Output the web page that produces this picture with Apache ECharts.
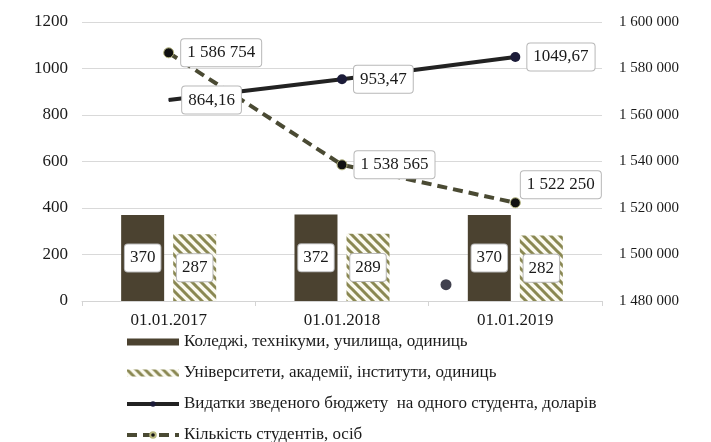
<!DOCTYPE html>
<html>
<head>
<meta charset="utf-8">
<script src="https://cdn.jsdelivr.net/npm/echarts@6/dist/echarts.min.js"></script>
<style>html,body{margin:0;padding:0;background:#fff;}#c{width:711px;height:442px;}</style>
</head>
<body>
<div id="c"></div>
<script>
var categories = ['01.01.2017', '01.01.2018', '01.01.2019'];
var colleges = [370, 372, 370];
var universities = [287, 289, 282];
var budgetPerStudent = [864.16, 953.47, 1049.67];
var students = [1586754, 1538565, 1522250];
var strayPoint = [[1.6, 70]];
var leftTicks = {min: 0, max: 1200, interval: 200};
var rightTicks = {min: 1480000, max: 1600000, interval: 20000};
var names = [
  'Коледжі, технікуми, училища, одиниць',
  'Університети, академії, інститути, одиниць',
  'Видатки зведеного бюджету  на одного студента, доларів',
  'Кількість студентів, осіб'
];

var FONT = '"Liberation Serif", "Times New Roman", serif';
function sp(v) { return String(v).replace(/\B(?=(\d{3})+(?!\d))/g, ' '); }
function dec(v) { return v.toFixed(2).replace('.', ','); }

// hatch pattern
var pc = document.createElement('canvas');
pc.width = 9; pc.height = 9;
var g = pc.getContext('2d');
g.fillStyle = '#fbfaf0'; g.fillRect(0, 0, 9, 9);
g.strokeStyle = '#8a8852'; g.lineWidth = 3;
g.beginPath();
g.moveTo(-9, 0); g.lineTo(9, 18);
g.moveTo(0, 0); g.lineTo(9, 9);
g.moveTo(0, -9); g.lineTo(18, 9);
g.moveTo(-9, -9); g.lineTo(9, 9);
g.stroke();
var hatch = {image: pc, repeat: 'repeat'};

var boxLabel = {
  show: true, fontFamily: FONT, fontSize: 17, color: '#1a1a1a',
  backgroundColor: '#fff', borderColor: '#b8b8b8', borderWidth: 1,
  borderRadius: 3, padding: [6, 6, 4, 6]
};

var chart = echarts.init(document.getElementById('c'));
chart.setOption({
  animation: false,
  backgroundColor: '#fff',
  grid: {left: 82, right: 109, top: 22, bottom: 141},
  legend: {
    orient: 'vertical', left: 120, top: 328, height: 200,
    itemWidth: 52, itemHeight: 7, itemGap: 13,
    textStyle: {fontFamily: FONT, fontSize: 17, color: '#1a1a1a', lineHeight: 18},
    data: [
      {name: names[0], icon: 'rect'},
      {name: names[1], icon: 'rect'},
      {name: names[2], lineStyle: {width: 4}},
      {name: names[3], lineStyle: {width: 4}}
    ]
  },
  xAxis: [{
    type: 'category', data: categories,
    axisLine: {lineStyle: {color: '#d4d4d4'}},
    axisTick: {show: true, length: 5, lineStyle: {color: '#d4d4d4'}},
    axisLabel: {fontFamily: FONT, fontSize: 17, color: '#1a1a1a', margin: 11}
  }, {
    type: 'value', min: -0.5, max: 2.5, show: false
  }],
  yAxis: [{
    type: 'value', min: leftTicks.min, max: leftTicks.max, interval: leftTicks.interval,
    axisLine: {show: false}, axisTick: {show: false},
    splitLine: {lineStyle: {color: '#d9d9d9'}},
    axisLabel: {fontFamily: FONT, fontSize: 17, color: '#1a1a1a', margin: 14, formatter: function (v) { return String(v); }}
  }, {
    type: 'value', min: rightTicks.min, max: rightTicks.max, interval: rightTicks.interval,
    axisLine: {show: false}, axisTick: {show: false}, splitLine: {show: false},
    axisLabel: {fontFamily: FONT, fontSize: 15, color: '#1a1a1a', margin: 17, formatter: sp}
  }],
  series: [{
    name: names[0], type: 'bar', data: colleges, barWidth: 43, barGap: '21%',
    itemStyle: {color: '#4b4230'},
    label: Object.assign({}, boxLabel, {position: 'inside', padding: [6, 5, 4, 5]})
  }, {
    name: names[1], type: 'bar', data: universities, barWidth: 43,
    itemStyle: {color: hatch},
    label: Object.assign({}, boxLabel, {position: 'inside', padding: [6, 5, 4, 5]})
  }, {
    name: names[2], type: 'line', data: budgetPerStudent.map(function (v, i) {
      return i === 0 ? {value: v, symbolSize: 1, label: {distance: 13}} : v;
    }),
    symbol: 'circle', symbolSize: 10, showAllSymbol: true, z: 4,
    lineStyle: {color: '#222', width: 4},
    itemStyle: {color: '#1b1b38'},
    label: Object.assign({}, boxLabel, {position: 'right', distance: 7, formatter: function (p) { return dec(p.value); }})
  }, {
    name: names[3], type: 'line', yAxisIndex: 1,
    data: students.map(function (v, i) {
      return i === 2 ? {value: v, label: {position: 'right', distance: 0, offset: [0, -18]}} : v;
    }),
    symbol: 'circle', symbolSize: 10, z: 3,
    lineStyle: {color: '#4a4a33', width: 4, type: [10, 6]},
    itemStyle: {color: '#111', borderColor: '#b8b880', borderWidth: 1},
    label: Object.assign({}, boxLabel, {position: 'right', distance: 7, formatter: function (p) { return sp(p.value); }})
  }, {
    name: 'extra', type: 'scatter', xAxisIndex: 1, yAxisIndex: 0, data: strayPoint,
    symbolSize: 11, itemStyle: {color: '#111122'}, silent: true
  }]
});
</script>
</body>
</html>
